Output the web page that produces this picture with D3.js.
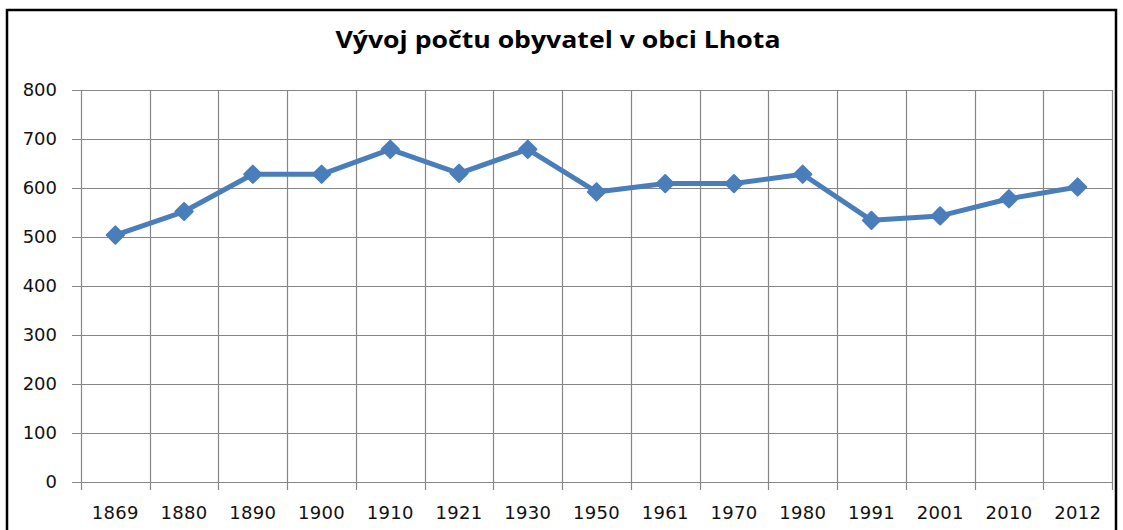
<!DOCTYPE html>
<html><head><meta charset="utf-8">
<script src="https://cdn.jsdelivr.net/npm/d3@7"></script>
<style>html,body{margin:0;padding:0;background:#fff;}svg{display:block;}</style>
</head><body>
<svg id="c" width="1123" height="530"></svg>
<script>
const title = "Vývoj počtu obyvatel v obci Lhota";
const years = ["1869","1880","1890","1900","1910","1921","1930","1950","1961","1970","1980","1991","2001","2010","2012"];
const population = [504, 552, 628, 628, 679, 630, 679, 592, 609, 609, 628, 534, 543, 578, 602];
const yTicks = [0, 100, 200, 300, 400, 500, 600, 700, 800];

const svg = d3.select("#c");
const m = {left: 81, right: 1112, top: 90, bottom: 482};

// chart frame
svg.append("rect").attr("x", 7).attr("y", 10).attr("width", 1109).attr("height", 540)
  .attr("fill", "#fff").attr("stroke", "#000").attr("stroke-width", 2.5);

const x = d3.scaleBand().domain(years).range([m.left, m.right]);
const y = d3.scaleLinear().domain([0, 800]).range([m.bottom, m.top]);

const grid = "#868686";
svg.append("g").selectAll("line").data(yTicks).join("line")
  .attr("x1", m.left - 9).attr("x2", m.right)
  .attr("y1", d => Math.round(y(d)) + 0.5).attr("y2", d => Math.round(y(d)) + 0.5)
  .attr("stroke", grid).attr("stroke-width", 1.2);

const bounds = years.map(d => x(d)).concat([m.right]);
svg.append("g").selectAll("line").data(bounds).join("line")
  .attr("x1", d => Math.round(d) + 0.5).attr("x2", d => Math.round(d) + 0.5)
  .attr("y1", m.top).attr("y2", m.bottom + 8)
  .attr("stroke", grid).attr("stroke-width", 1.2);

svg.append("g").selectAll("text").data(yTicks).join("text")
  .attr("x", 57).attr("y", d => y(d)).attr("dy", "0.36em")
  .attr("text-anchor", "end")
  .attr("font-family", "DejaVu Sans").attr("font-size", 18).attr("fill", "#111")
  .text(d => d);

svg.append("g").selectAll("text").data(years).join("text")
  .attr("x", d => x(d) + x.bandwidth() / 2).attr("y", 519)
  .attr("text-anchor", "middle")
  .attr("font-family", "DejaVu Sans").attr("font-size", 18).attr("letter-spacing", 0.3).attr("fill", "#111")
  .text(d => d);

svg.append("text").attr("x", 558).attr("y", 48).attr("text-anchor", "middle")
  .attr("font-family", "Open Sans").attr("font-weight", 700).attr("font-size", 23)
  .attr("textLength", 445).attr("lengthAdjust", "spacingAndGlyphs")
  .attr("fill", "#000").text(title);

const color = "#4A7EBB";
const line = d3.line().x((d, i) => x(years[i]) + x.bandwidth() / 2).y(d => y(d));
svg.append("path").datum(population).attr("d", line)
  .attr("fill", "none").attr("stroke", color).attr("stroke-width", 5)
  .attr("stroke-linejoin", "round").attr("stroke-linecap", "round");

svg.append("g").selectAll("path").data(population).join("path")
  .attr("transform", (d, i) => `translate(${x(years[i]) + x.bandwidth() / 2},${y(d)})`)
  .attr("d", d3.symbol(d3.symbolDiamond2, 190)())
  .attr("fill", color).attr("stroke", color).attr("stroke-width", 2).attr("stroke-linejoin", "round");
</script>
</body></html>
